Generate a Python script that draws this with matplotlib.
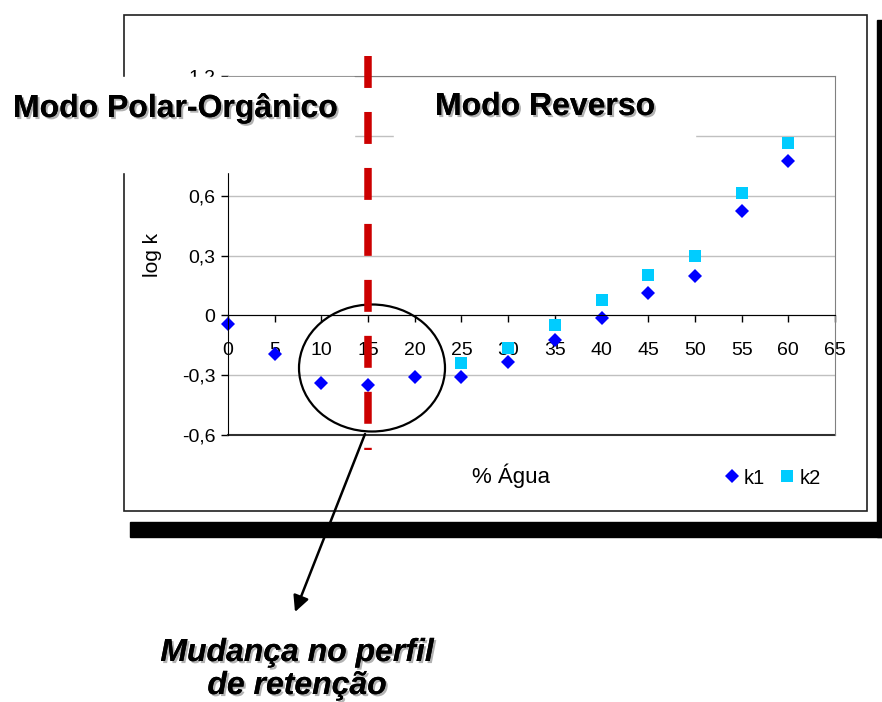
import matplotlib
matplotlib.use("Agg")
import matplotlib.pyplot as plt
import matplotlib.patheffects as pe
from matplotlib.patches import Rectangle, Ellipse
from matplotlib.transforms import blended_transform_factory

# retention data: log k vs % water in the mobile phase
agua = [0, 5, 10, 15, 20, 25, 30, 35, 40, 45, 50, 55, 60]
k1 = [-0.045, -0.195, -0.337, -0.348, -0.308, -0.307, -0.233, -0.125, -0.012, 0.113, 0.198, 0.523, 0.775]
agua_k2 = [25, 30, 35, 40, 45, 50, 55, 60]
k2 = [-0.237, -0.165, -0.05, 0.075, 0.203, 0.297, 0.613, 0.865]

yticks = [-0.6, -0.3, 0, 0.3, 0.6, 0.9, 1.2]
ytick_labels = ["-0,6", "-0,3", "0", "0,3", "0,6", "0,9", "1,2"]
xticks = [0, 5, 10, 15, 20, 25, 30, 35, 40, 45, 50, 55, 60, 65]
transicao = 15  # % water where polar-organic mode turns into reversed phase

W, H = 882, 702
plt.rcParams["font.family"] = ["Liberation Sans", "DejaVu Sans"]
plt.rcParams["lines.scale_dashes"] = False
fig = plt.figure(figsize=(W / 100, H / 100), dpi=100)

shadow = [pe.withSimplePatchShadow(offset=(1.5, -1.5), shadow_rgbFace="#808080", alpha=0.6), pe.Normal()]

# chart frame and drop shadow, in pixel units
bg = fig.add_axes([0, 0, 1, 1], zorder=0)
bg.set_xlim(0, W)
bg.set_ylim(H, 0)
bg.axis("off")
bg.add_patch(Rectangle((130, 522), 752, 15, color="black"))
bg.add_patch(Rectangle((877, 20), 5, 517, color="black"))
bg.add_patch(Rectangle((124, 15), 743, 496, fill=False, ec="#202020", lw=1.2))
bg.text(152, 255, "log k", rotation=90, ha="center", va="center", fontsize=15)
bg.text(511, 476, "% Água", ha="center", va="center", fontsize=16)

# plot area
ax = fig.add_axes([228 / W, 1 - 435 / H, (835 - 228) / W, (435 - 76) / H], zorder=1)
ax.set_xlim(0, 65)
ax.set_ylim(-0.6, 1.2)
ax.set_xticks(xticks)
ax.set_xticklabels([str(x) for x in xticks])
ax.set_yticks(yticks)
ax.set_yticklabels(ytick_labels)
ax.yaxis.grid(True, color="#C0C0C0", lw=1)
ax.set_axisbelow(True)
ax.spines["bottom"].set_position(("data", 0))
ax.spines["bottom"].set_color("black")
ax.spines["left"].set_color("black")
for s in ("top", "right"):
    ax.spines[s].set_color("#808080")
ax.axhline(-0.6, color="#303030", lw=1.5, clip_on=False)
ax.tick_params(axis="x", direction="out", length=5, width=1, pad=14, labelsize=14)
ax.tick_params(axis="y", direction="out", length=5, width=1, pad=4, labelsize=14)

ax.plot(agua, k1, ls="none", marker="D", ms=7.5, mew=0, color="#0000FF", label="k1", clip_on=False)
ax.plot(agua_k2, k2, ls="none", marker="s", ms=8.6, mew=0, color="#00CCFF", label="k2", clip_on=False)
ax.legend(loc="center", bbox_to_anchor=(773 / W, 1 - 478 / H), bbox_transform=fig.transFigure,
          ncol=2, frameon=False, fontsize=14.5, handlelength=0.6, handletextpad=0.3,
          columnspacing=0.8, borderpad=0)

# annotation layer on top
ov = fig.add_axes([0, 0, 1, 1], zorder=2)
ov.set_xlim(0, W)
ov.set_ylim(H, 0)
ov.axis("off")
ov.add_patch(Rectangle((5, 77), 349, 95, color="white"))
ov.add_patch(Rectangle((394, 80), 301, 90, color="white"))
ov.text(13, 117, "Modo Polar-Orgânico", ha="left", va="baseline", fontsize=23,
        fontweight="bold", path_effects=shadow)
ov.text(435, 115, "Modo Reverso", ha="left", va="baseline", fontsize=23,
        fontweight="bold", path_effects=shadow)

trans = blended_transform_factory(ax.transData, ov.transData)
ov.plot([transicao, transicao], [56, 450], transform=trans, color="#CC0000", lw=5.4,
        dashes=(23, 17.3), solid_capstyle="butt", dash_capstyle="butt", clip_on=False)

ov.add_patch(Ellipse((372, 368), 146, 127, fill=False, ec="black", lw=1.6))
ov.annotate("", xy=(295, 612), xytext=(365, 434),
            arrowprops=dict(arrowstyle="-|>", color="black", lw=1.8, mutation_scale=24,
                            shrinkA=0, shrinkB=0))
ov.text(297, 661, "Mudança no perfil", ha="center", va="baseline", fontsize=23,
        fontweight="bold", fontstyle="italic", path_effects=shadow)
ov.text(297, 694, "de retenção", ha="center", va="baseline", fontsize=23,
        fontweight="bold", fontstyle="italic", path_effects=shadow)

fig.savefig("out.png", dpi=100)
